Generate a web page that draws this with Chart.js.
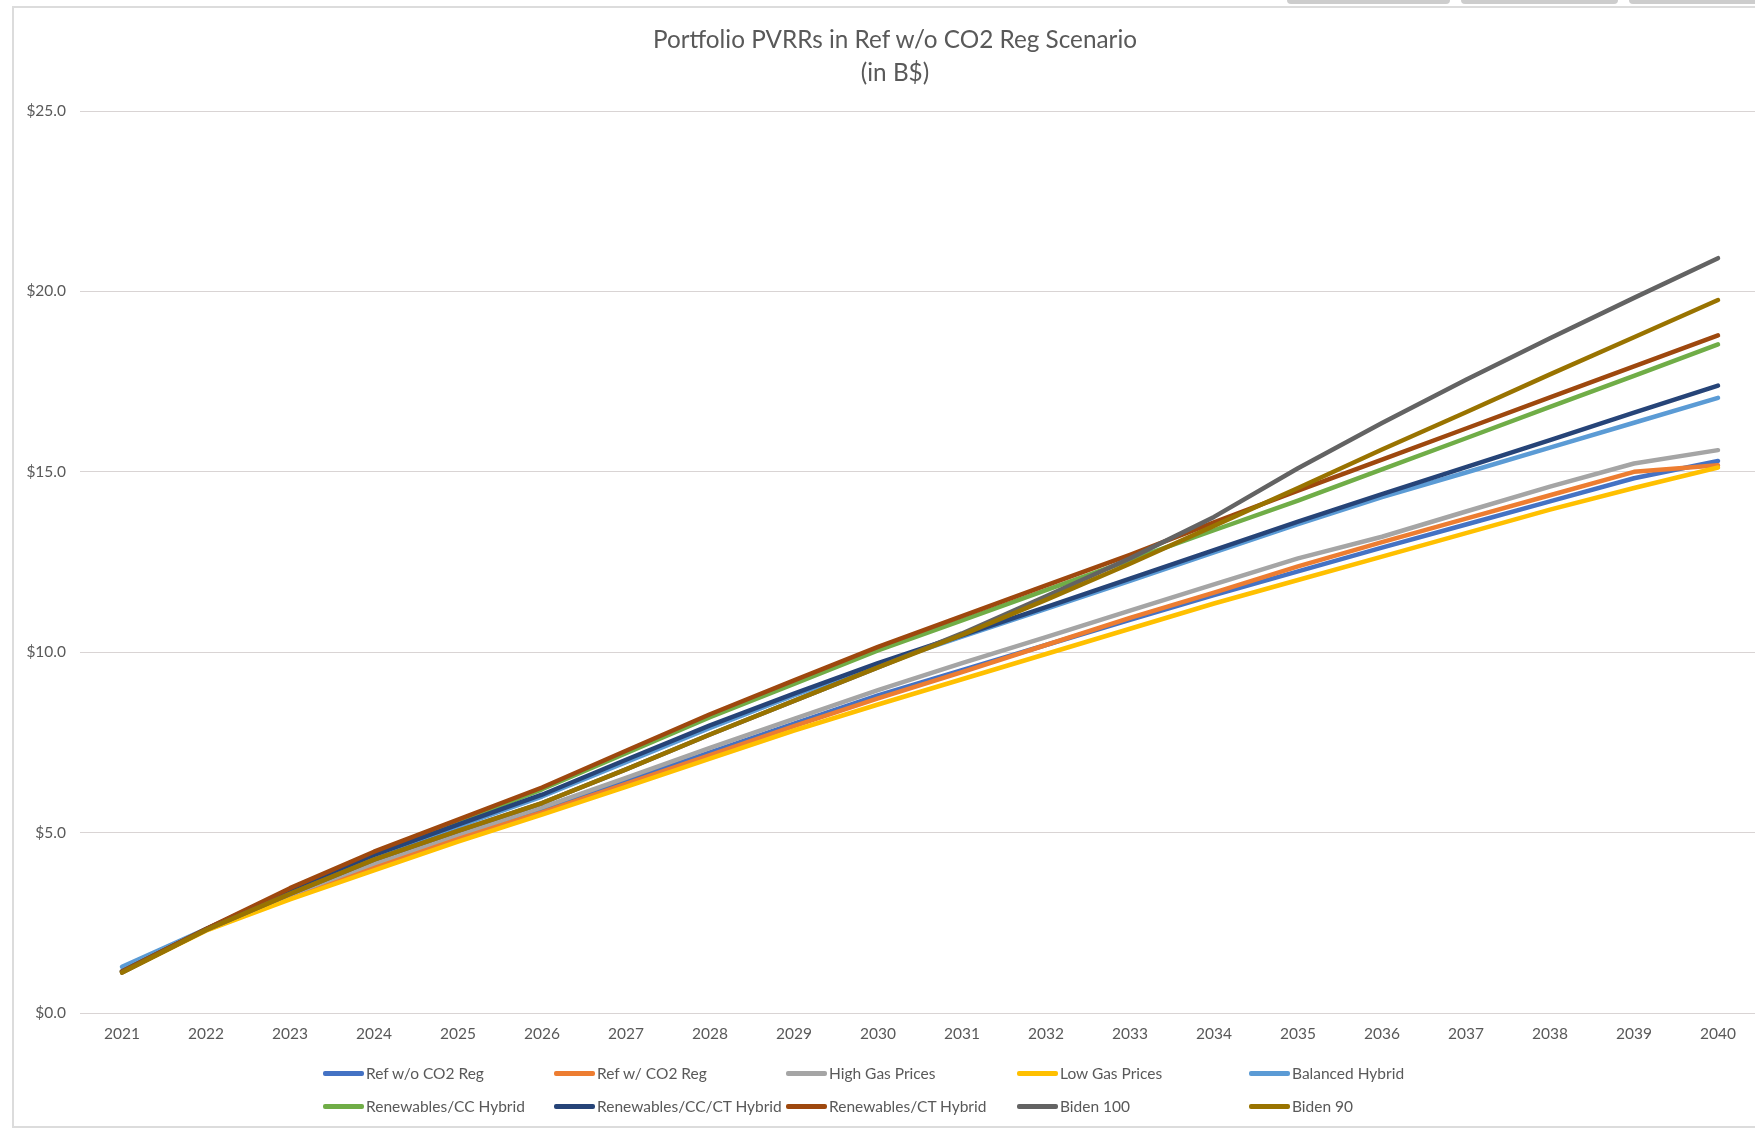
<!DOCTYPE html>
<html>
<head>
<meta charset="utf-8">
<title>Portfolio PVRRs in Ref w/o CO2 Reg Scenario</title>
<script src="https://cdn.jsdelivr.net/npm/chart.js@4.4.1/dist/chart.umd.min.js"></script>
<style>
  html, body { margin: 0; padding: 0; background: #fff; overflow: hidden; width: 1755px; height: 1132px; }
  #frame { position: absolute; left: 12px; top: 6px; width: 1800px; height: 1122px;
           border: 2px solid #dcdcdc; border-right: none; box-sizing: border-box; }
  .tab { position: absolute; top: 0; height: 4px; background: #cdcdcd; border-radius: 0 0 4px 4px; }
  #chart { position: absolute; left: 14px; top: 0; }
  #title { position: absolute; left: 395px; width: 1000px; top: 22px; text-align: center;
           font-family: Lato, "Open Sans", sans-serif; font-size: 24.3px; line-height: 33px; color: #595959; }
  #legend { position: absolute; left: 0; top: 0; width: 1755px; height: 1132px; pointer-events: none;
            font-family: Lato, "Open Sans", sans-serif; font-size: 15.5px; color: #595959; }
  .item { position: absolute; display: flex; align-items: center; white-space: nowrap; transform: translateY(-50%); }
  .swatch { width: 41px; height: 5px; border-radius: 2px; margin-right: 2px; }
</style>
</head>
<body>
<div id="frame"></div>
<div class="tab" style="left:1287px;width:163px"></div>
<div class="tab" style="left:1461px;width:157px"></div>
<div class="tab" style="left:1629px;width:140px"></div>
<canvas id="chart" width="1766" height="1054"></canvas>
<div id="title">Portfolio PVRRs in Ref w/o CO2 Reg Scenario<br>(in B$)</div>
<div id="legend"></div>
<script>
// Years on the category axis
const years = ['2021','2022','2023','2024','2025','2026','2027','2028','2029','2030',
               '2031','2032','2033','2034','2035','2036','2037','2038','2039','2040'];

// Cumulative PVRR per portfolio, billions of dollars
const refNoCO2      = [1.15, 2.30, 3.25, 4.10, 4.90, 5.62, 6.42, 7.22, 8.02, 8.80, 9.50, 10.20, 10.90, 11.58, 12.24, 12.90, 13.54, 14.18, 14.82, 15.30];
const refWithCO2    = [1.15, 2.30, 3.22, 4.05, 4.85, 5.56, 6.35, 7.15, 7.95, 8.72, 9.45, 10.20, 10.95, 11.65, 12.38, 13.05, 13.70, 14.35, 15.00, 15.18];
const highGas       = [1.15, 2.30, 3.28, 4.15, 4.95, 5.70, 6.52, 7.35, 8.15, 8.95, 9.70, 10.42, 11.15, 11.88, 12.60, 13.20, 13.90, 14.59, 15.23, 15.60];
const lowGas        = [1.12, 2.28, 3.15, 3.95, 4.75, 5.50, 6.27, 7.05, 7.83, 8.55, 9.25, 9.95, 10.65, 11.35, 12.00, 12.65, 13.30, 13.95, 14.55, 15.12];
const balancedHyb   = [1.28, 2.33, 3.38, 4.35, 5.17, 6.00, 6.95, 7.90, 8.80, 9.65, 10.43, 11.20, 11.98, 12.77, 13.55, 14.30, 14.98, 15.67, 16.36, 17.05];
const renewCC       = [1.15, 2.32, 3.42, 4.42, 5.30, 6.20, 7.20, 8.20, 9.12, 10.05, 10.88, 11.72, 12.55, 13.38, 14.20, 15.07, 15.93, 16.80, 17.66, 18.53];
const renewCCCT     = [1.15, 2.32, 3.40, 4.38, 5.22, 6.05, 7.02, 7.97, 8.85, 9.70, 10.47, 11.25, 12.04, 12.83, 13.62, 14.38, 15.13, 15.88, 16.64, 17.39];
const renewCT       = [1.15, 2.33, 3.46, 4.47, 5.36, 6.25, 7.27, 8.28, 9.22, 10.15, 11.00, 11.85, 12.70, 13.60, 14.48, 15.34, 16.20, 17.06, 17.92, 18.78];
const biden100      = [1.12, 2.30, 3.30, 4.25, 5.05, 5.82, 6.75, 7.72, 8.65, 9.58, 10.52, 11.55, 12.60, 13.75, 15.10, 16.35, 17.55, 18.70, 19.82, 20.92];
const biden90       = [1.12, 2.30, 3.30, 4.25, 5.05, 5.82, 6.75, 7.72, 8.65, 9.58, 10.48, 11.45, 12.45, 13.50, 14.55, 15.62, 16.65, 17.70, 18.73, 19.76];

const seriesNames  = ['Ref w/o CO2 Reg', 'Ref w/ CO2 Reg', 'High Gas Prices', 'Low Gas Prices', 'Balanced Hybrid',
                      'Renewables/CC Hybrid', 'Renewables/CC/CT Hybrid', 'Renewables/CT Hybrid', 'Biden 100', 'Biden 90'];
const seriesValues = [refNoCO2, refWithCO2, highGas, lowGas, balancedHyb, renewCC, renewCCCT, renewCT, biden100, biden90];
const seriesColors = ['#4472C4', '#ED7D31', '#A5A5A5', '#FFC000', '#5B9BD5',
                      '#70AD47', '#264478', '#9E480E', '#636363', '#997300'];

const FONT = 'Lato, "Open Sans", sans-serif';
const TEXT = '#595959';

const datasets = seriesNames.map((name, i) => ({
  label: name,
  data: seriesValues[i],
  borderColor: seriesColors[i],
  backgroundColor: seriesColors[i],
  borderWidth: 4.5,
  borderCapStyle: 'round',
  borderJoinStyle: 'round',
  pointRadius: 0,
  tension: 0,
  fill: false,
  order: seriesNames.length - i   // later series paint on top
}));

new Chart(document.getElementById('chart'), {
  type: 'line',
  data: { labels: years, datasets },
  options: {
    responsive: false,
    devicePixelRatio: 1,
    animation: false,
    layout: { padding: { left: 0, right: 20, top: 111, bottom: 0 } },
    plugins: {
      legend: { display: false },
      tooltip: { enabled: false },
      title: { display: false }
    },
    scales: {
      x: {
        offset: true,
        grid: { display: false, drawTicks: false },
        border: { display: false },
        ticks: { color: TEXT, font: { family: FONT, size: 15.5 }, padding: 12, maxRotation: 0, autoSkip: false },
        afterFit: s => { s.height = 41; }
      },
      y: {
        min: 0, max: 25,
        grid: { color: '#d9d4d4', lineWidth: 1, drawTicks: false },
        border: { display: false },
        ticks: {
          stepSize: 5, color: TEXT, padding: 14,
          font: { family: FONT, size: 15.5 },
          callback: v => '$' + Number(v).toFixed(1)
        },
        afterFit: s => { s.width = 66; }
      }
    }
  }
});

// Legend laid out in a fixed 5-column grid below the axis
const legend = document.getElementById('legend');
const colX = [323, 554, 786, 1017, 1249];
const rowY = [1073, 1106];
seriesNames.forEach((name, i) => {
  const item = document.createElement('div');
  item.className = 'item';
  item.style.left = colX[i % 5] + 'px';
  item.style.top = rowY[Math.floor(i / 5)] + 'px';
  const sw = document.createElement('span');
  sw.className = 'swatch';
  sw.style.background = seriesColors[i];
  const tx = document.createElement('span');
  tx.textContent = name;
  item.appendChild(sw);
  item.appendChild(tx);
  legend.appendChild(item);
});
</script>
</body>
</html>
